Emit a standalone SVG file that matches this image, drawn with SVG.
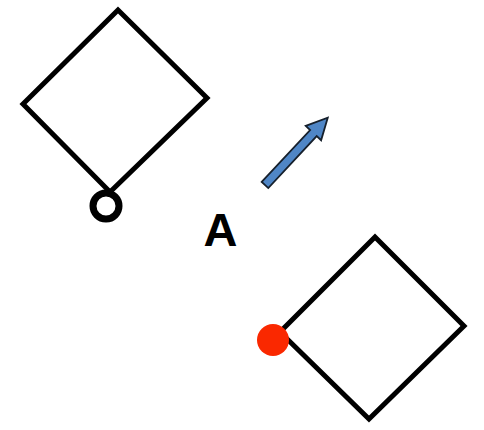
<svg xmlns="http://www.w3.org/2000/svg" width="484" height="430" viewBox="0 0 484 430">
<style>
.shape{fill:none;stroke:#000;stroke-width:5;stroke-linejoin:miter}
.ring{fill:none;stroke:#000;stroke-width:7}
.dot{fill:#fa2800}
.arrow{fill:#4f86c6;stroke:#16202c;stroke-width:1.8;stroke-linejoin:miter}
.label{font-family:"Liberation Sans",Arial,sans-serif;font-weight:bold;font-size:47px;fill:#000}
</style>
<rect width="484" height="430" fill="#fff"/>
<g id="node-top">
<polygon class="shape" points="118,10 207,98 110,192 23,104"/>
<circle class="ring" cx="106" cy="206" r="13"/>
</g>
<g id="node-bottom">
<polygon class="shape" points="375,237 464,326 369,419 280,332"/>
<circle class="dot" cx="273" cy="340" r="16"/>
</g>
<g id="label-A">
<text class="label" x="220.5" y="246" text-anchor="middle">A</text>
</g>
<g id="connectors">
<polygon class="arrow" transform="translate(265,185) rotate(-47)" points="0,-4.5 71,-4.5 71,-10.5 92,0 71,10.5 71,4.5 0,4.5"/>
</g>
</svg>
